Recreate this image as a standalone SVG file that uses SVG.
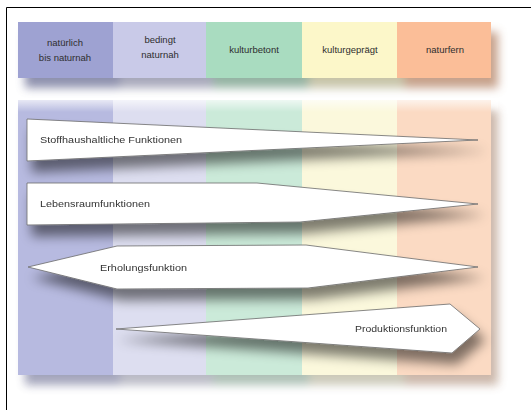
<svg xmlns="http://www.w3.org/2000/svg" width="531" height="410" viewBox="0 0 531 410">
<defs>
<style>
.hdr{font-family:"Liberation Sans",Arial,sans-serif;font-size:9.5px;fill:#2e2e2e;text-anchor:middle}
.lbl{font-family:"Liberation Sans",Arial,sans-serif;font-size:9.5px;fill:#333}
.arrow{fill:#ffffff;stroke:#6a6a6a;stroke-width:0.8;stroke-linejoin:miter}
</style>
<filter id="sh" x="-20%" y="-60%" width="140%" height="270%">
<feGaussianBlur in="SourceAlpha" stdDeviation="6"/>
<feOffset dx="5" dy="11" result="b"/>
<feComponentTransfer><feFuncA type="linear" slope="0.5"/></feComponentTransfer>
<feMerge><feMergeNode/><feMergeNode in="SourceGraphic"/></feMerge>
</filter>
<filter id="hsh" x="-10%" y="-30%" width="125%" height="190%">
<feGaussianBlur in="SourceGraphic" stdDeviation="5"/>
<feOffset dx="7" dy="10" result="b"/>
<feComponentTransfer><feFuncR type="linear" slope="0.5"/><feFuncG type="linear" slope="0.5"/><feFuncB type="linear" slope="0.5"/><feFuncA type="linear" slope="0.8"/></feComponentTransfer>
<feMerge><feMergeNode/><feMergeNode in="SourceGraphic"/></feMerge>
</filter>
<linearGradient id="fadeTop" x1="0" y1="0" x2="0" y2="1">
<stop offset="0" stop-color="#fff" stop-opacity="0.8"/>
<stop offset="1" stop-color="#fff" stop-opacity="0"/>
</linearGradient>
</defs>
<rect width="531" height="410" fill="#fff"/>
<path d="M6.5,410 V7.5 H531" fill="none" stroke="#000" stroke-width="1"/>

<g id="header" filter="url(#hsh)">
<rect x="18" y="22" width="95" height="56" fill="#9ea2d2"/>
<rect x="113" y="22" width="93" height="56" fill="#c9cae8"/>
<rect x="206" y="22" width="96" height="56" fill="#a9dcc0"/>
<rect x="302" y="22" width="95" height="56" fill="#fcf7c9"/>
<rect x="397" y="22" width="94" height="56" fill="#fbbe98"/>
</g>
<g id="header-labels">
<text class="hdr" x="65" y="46">natürlich</text>
<text class="hdr" x="65" y="61">bis naturnah</text>
<text class="hdr" x="160" y="43">bedingt</text>
<text class="hdr" x="160" y="58">naturnah</text>
<text class="hdr" x="254" y="53">kulturbetont</text>
<text class="hdr" x="350" y="53">kulturgeprägt</text>
<text class="hdr" x="445" y="53">naturfern</text>
</g>

<g id="body" filter="url(#hsh)" opacity="0.9">
<rect x="18" y="100" width="95" height="275" fill="#b0b3dd"/>
<rect x="113" y="100" width="93" height="275" fill="#dadbef"/>
<rect x="206" y="100" width="96" height="275" fill="#c6e8d5"/>
<rect x="302" y="100" width="95" height="275" fill="#fbf8d9"/>
<rect x="397" y="100" width="94" height="275" fill="#fbd6bd"/>
</g>
<rect x="18" y="98" width="480" height="14" fill="url(#fadeTop)"/>

<g id="connectors">
<g id="stoffhaushalt" filter="url(#sh)">
<polygon class="arrow" points="27,119 478,140 27,161"/>
<text class="lbl" x="40" y="143" textLength="142" lengthAdjust="spacingAndGlyphs">Stoffhaushaltliche Funktionen</text>
</g>
<g id="lebensraum" filter="url(#sh)">
<polygon class="arrow" points="27,183 257,183 478,204 300,222 27,225"/>
<text class="lbl" x="40" y="207" textLength="110" lengthAdjust="spacingAndGlyphs">Lebensraumfunktionen</text>
</g>
<g id="erholung" filter="url(#sh)">
<polygon class="arrow" points="28,267 117,246 306,245 478,267 308,288 117,289"/>
<text class="lbl" x="100" y="271" textLength="87" lengthAdjust="spacingAndGlyphs">Erholungsfunktion</text>
</g>
<g id="produktion" filter="url(#sh)">
<polygon class="arrow" points="116,329 450,304 480,329 452,353"/>
<text class="lbl" x="355" y="332" textLength="92" lengthAdjust="spacingAndGlyphs">Produktionsfunktion</text>
</g>
</g>
</svg>
